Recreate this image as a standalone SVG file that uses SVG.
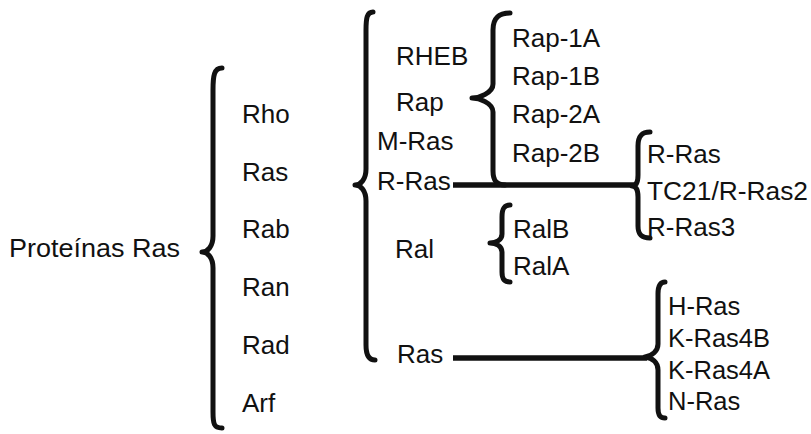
<svg xmlns="http://www.w3.org/2000/svg" width="811" height="434" viewBox="0 0 811 434">
  <style>
    text { font-family: "Liberation Sans", Arial, sans-serif; font-size: 26px; fill: #111; }
    .sm { font-size: 25.5px; }
    .brace { fill: none; stroke: #111; stroke-width: 5; stroke-linecap: round; stroke-linejoin: round; }
    .link { fill: none; stroke: #111; stroke-width: 5.5; stroke-linecap: butt; }
  </style>
  <rect width="811" height="434" fill="#fff"/>

  <!-- root -->
  <g id="root">
    <text x="9" y="257" textLength="171" lengthAdjust="spacingAndGlyphs">Proteínas Ras</text>
    <path class="brace" d="M222,68 C214,68 213,76 213,90 L213,236 C213,246 208,252 202,252 C208,252 213,258 213,268 L213,412 C213,424 214,428 222,428"/>
  </g>

  <!-- superfamily -->
  <g id="families">
    <text x="242" y="123">Rho</text>
    <text x="242" y="181">Ras</text>
    <text x="242" y="238">Rab</text>
    <text x="242" y="296">Ran</text>
    <text x="242" y="354">Rad</text>
    <text x="242" y="412">Arf</text>
  </g>

  <!-- Ras family -->
  <g id="ras-family">
    <path class="brace" d="M373,12 C367,12 366,18 366,30 L366,169 C366,179 361,185 355,185 C361,185 366,191 366,201 L366,345 C366,355 369,360 375,360"/>
    <text x="396" y="65">RHEB</text>
    <text x="396" y="111">Rap</text>
    <text x="377" y="150">M-Ras</text>
    <text x="377" y="190">R-Ras</text>
    <text x="395" y="258">Ral</text>
    <text x="397" y="363">Ras</text>
  </g>

  <!-- Rap subgroup -->
  <g id="rap">
    <path class="brace" d="M510,13 C501,13 493,16 493,30 L493,84 C493,93 479,98 472,98 C479,98 493,103 493,112 L493,171 C493,181 497,185 505,185"/>
    <text x="512" y="47">Rap-1A</text>
    <text x="512" y="85">Rap-1B</text>
    <text x="512" y="123">Rap-2A</text>
    <text x="512" y="162">Rap-2B</text>
  </g>

  <!-- R-Ras subgroup -->
  <g id="r-ras">
    <path class="brace" d="M650,132 C642,132 638,136 638,146 L638,175 C638,182 636,186 632,186 C636,186 638,190 638,197 L638,226 C638,235 642,238 650,238"/>
    <text x="647" y="163">R-Ras</text>
    <text x="647" y="200" textLength="161" lengthAdjust="spacingAndGlyphs">TC21/R-Ras2</text>
    <text x="647" y="236">R-Ras3</text>
  </g>

  <!-- Ral subgroup -->
  <g id="ral">
    <path class="brace" d="M510,205 C504,205 502,209 502,217 L502,234 C502,240 496,243 490,243 C496,243 502,246 502,252 L502,272 C502,279 504,282 510,282"/>
    <text x="513" y="238">RalB</text>
    <text x="513" y="275">RalA</text>
  </g>

  <!-- classical Ras subgroup -->
  <g id="h-k-n-ras">
    <path class="brace" d="M665,282 C660,282 658,286 658,294 L658,344 C658,351 652,356 645,357 C652,358 658,362 658,370 L658,408 C658,415 660,418 665,418"/>
    <text class="sm" x="668" y="315">H-Ras</text>
    <text class="sm" x="668" y="347">K-Ras4B</text>
    <text class="sm" x="668" y="379">K-Ras4A</text>
    <text class="sm" x="668" y="410">N-Ras</text>
  </g>

  <!-- connectors -->
  <g id="connectors">
    <line class="link" x1="453" y1="185" x2="634" y2="185"/>
    <line class="link" x1="453" y1="358" x2="647" y2="358"/>
  </g>
</svg>
